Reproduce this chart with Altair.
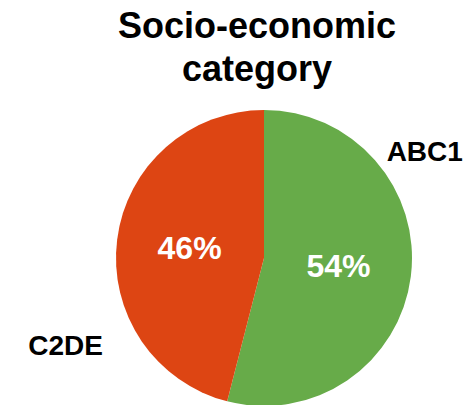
import altair as alt
import pandas as pd

categories = ["ABC1", "C2DE"]
shares = [54, 46]
pct_labels = ["54%", "46%"]
colors = ["#67AB49", "#DD4513"]

df = pd.DataFrame({"category": categories, "share": shares, "pct": pct_labels,
                   "ord": [0, 1]})

TOP = 95
CX, CY = 264, 258 - TOP
R = 148
theta_scale = alt.Scale(domain=[0, 100])

stacked = alt.Chart(df).transform_stack(
    stack="share", groupby=[], as_=["s0", "s1"], sort=[alt.SortField("ord")]
).transform_calculate(mid="(datum.s0 + datum.s1) / 2").encode(
    x=alt.value(CX),
    y=alt.value(CY),
)

pie = stacked.mark_arc(outerRadius=R).encode(
    theta=alt.Theta("s0:Q", stack=None, scale=theta_scale),
    theta2="s1:Q",
    color=alt.Color("category:N", scale=alt.Scale(domain=categories, range=colors), legend=None),
)

txt = stacked.encode(theta=alt.Theta("mid:Q", stack=None, scale=theta_scale))

pct = txt.mark_text(radius=75, font="Liberation Sans", fontWeight="bold", fontSize=32,
                    color="white", baseline="middle", align="center").encode(text="pct:N")

lab_abc = txt.mark_text(radius=160, dx=2, dy=-125, font="Liberation Sans", fontWeight="bold",
                        fontSize=28, color="black", baseline="middle", align="center").encode(
    text="category:N").transform_filter(alt.datum.category == "ABC1")

lab_c2 = txt.mark_text(radius=195, dx=-5, dy=113, font="Liberation Sans", fontWeight="bold",
                       fontSize=28, color="black", baseline="middle", align="center").encode(
    text="category:N").transform_filter(alt.datum.category == "C2DE")

chart = alt.layer(pie, pct, lab_abc, lab_c2).properties(
    width=470, height=405 - TOP,
    autosize=alt.AutoSizeParams(type="none"),
    padding={"left": 0, "right": 0, "top": TOP, "bottom": 0},
    title=alt.TitleParams(["Socio-economic", "category"], fontSize=36, fontWeight="bold",
                          font="Liberation Sans", anchor="middle", dx=22, lineHeight=43,
                          offset=6, color="black"),
).configure_view(stroke=None)

chart.save("out.html", embed_options={"renderer": "svg", "actions": False})
